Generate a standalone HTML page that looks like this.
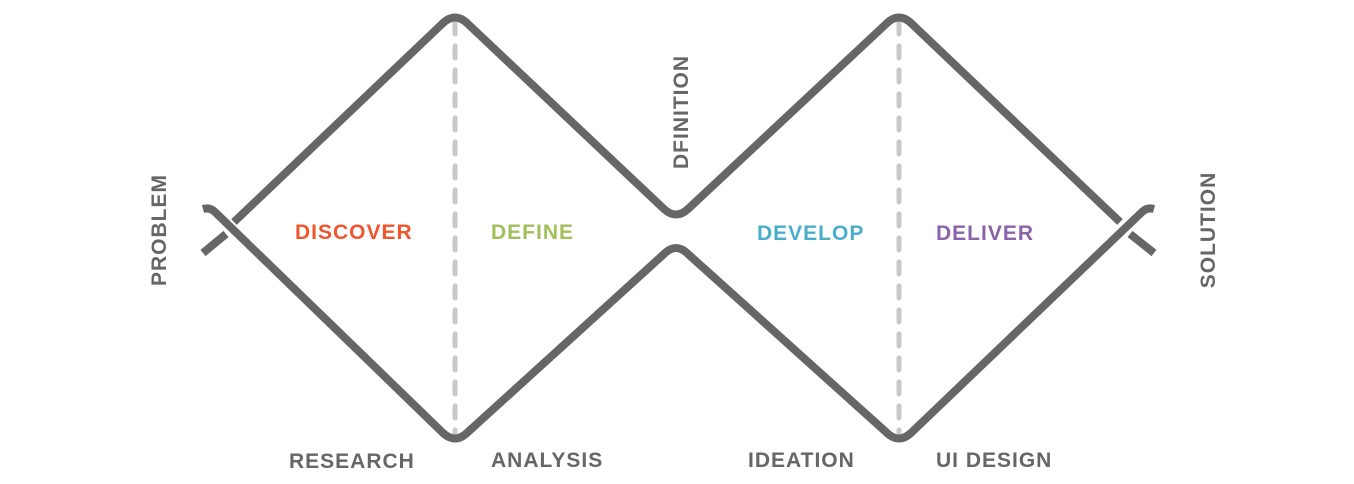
<!DOCTYPE html>
<html><head><meta charset="utf-8"><style>
html,body{margin:0;padding:0;background:#fff;width:1354px;height:484px;overflow:hidden}
svg{display:block}
text{font-family:"Liberation Sans",sans-serif;font-weight:bold;font-size:21px;letter-spacing:1px}
</style></head><body>
<svg width="1354" height="484" viewBox="0 0 1354 484">
<g fill="none" stroke="#c8c8c8" stroke-width="5" stroke-linecap="round" stroke-dasharray="12 12">
<line x1="455" y1="22" x2="455" y2="434"/>
<line x1="899" y1="22" x2="899" y2="434"/>
</g>
<g fill="none" stroke="#666" stroke-width="8" stroke-linecap="butt" stroke-linejoin="round">
<path d="M234 222 L442 24 Q455 11 468 24 L664 209 Q676 220 688 209 L886 24 Q899 11 912 24 L1120 222"/>
<path d="M203 209 Q210 207 215 212 L442 432 Q455 445 468 432 L664 254 Q676 242 688 254 L886 432 Q899 445 912 432 L1142 212 Q1147 207 1154 209"/>
<line x1="203" y1="253" x2="226" y2="234"/>
<line x1="1130" y1="234" x2="1154" y2="253"/>
</g>
<text x="295" y="239" fill="#f0552d">DISCOVER</text>
<text x="491" y="239" fill="#a2bf5b">DEFINE</text>
<text x="757" y="240" fill="#4aaecb">DEVELOP</text>
<text x="936" y="240" fill="#8a63a8">DELIVER</text>
<g fill="#666">
<text x="289" y="468">RESEARCH</text>
<text x="491" y="467">ANALYSIS</text>
<text x="748" y="467">IDEATION</text>
<text x="936" y="467">UI DESIGN</text>
<text transform="translate(166,230) rotate(-90)" text-anchor="middle">PROBLEM</text>
<text transform="translate(1215,230) rotate(-90)" text-anchor="middle">SOLUTION</text>
<text transform="translate(688,112) rotate(-90)" text-anchor="middle">DFINITION</text>
</g>
</svg>
</body></html>
